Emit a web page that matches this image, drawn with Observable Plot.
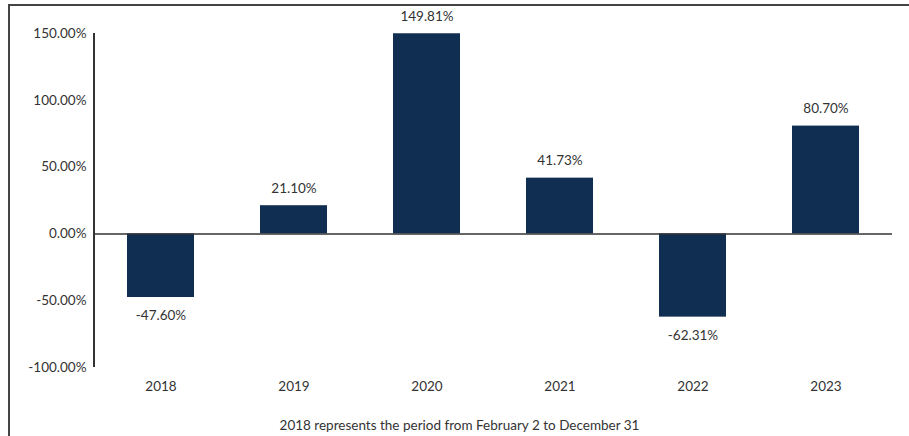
<!DOCTYPE html>
<html><head><meta charset="utf-8">
<script src="https://cdn.jsdelivr.net/npm/d3@7"></script>
<script src="https://cdn.jsdelivr.net/npm/@observablehq/plot@0.6"></script>
<style>
html,body{margin:0;padding:0;background:#fff;}
#frame{position:absolute;left:8px;top:4px;width:899px;height:430px;border-top:2px solid #444;border-left:2px solid #444;font-family:Lato,"Noto Sans",sans-serif;}
#cap{position:absolute;left:0;width:100%;top:411px;text-align:center;font-size:13.5px;color:#333;}
</style></head>
<body><div id="frame"><div id="chart"></div><div id="cap">2018 represents the period from February 2 to December 31</div></div>
<script>
const years = ["2018","2019","2020","2021","2022","2023"];
const returns = [-47.60, 21.10, 149.81, 41.73, -62.31, 80.70];
const yTicks = [-100, -50, 0, 50, 100, 150];
const data = years.map((y,i)=>({year:y, value:returns[i]}));
const fmt = v => v.toFixed(2) + "%";
const chart = Plot.plot({
  width: 899, height: 400,
  marginLeft: 84, marginRight: 17, marginTop: 27, marginBottom: 39,
  style: {fontFamily: 'Lato,"Noto Sans",sans-serif', fontSize: "13.5px", color: "#333", background: "#fff"},
  x: {domain: years, paddingInner: 0.5, paddingOuter: 0.25, label: null},
  y: {domain: [-100, 150], label: null},
  marks: [
    Plot.barY(data, {x: "year", y: "value", fill: "#102e52"}),
    Plot.ruleY([0], {stroke: "#333", strokeWidth: 1.5}),
    Plot.axisY({ticks: yTicks, tickFormat: fmt, tickSize: 0, tickPadding: 8, label: null, fontSize: 13.5}),
    Plot.axisX({tickSize: 0, tickPadding: 14, label: null, fontSize: 13.5}),
    Plot.text(data.filter(d=>d.value>=0), {x: "year", y: "value", text: d=>fmt(d.value), lineAnchor: "bottom", dy: -13, fill: "#333", fontSize: 13.5}),
    Plot.text(data.filter(d=>d.value<0), {x: "year", y: "value", text: d=>fmt(d.value), lineAnchor: "top", dy: 13, fill: "#333", fontSize: 13.5})
  ]
});
document.getElementById("chart").appendChild(chart);
const ys = chart.scale("y");
const y1 = ys.apply(150), y2 = ys.apply(-100);
d3.select(chart).append("line").attr("x1", 84).attr("x2", 84).attr("y1", y1).attr("y2", y2)
  .attr("stroke", "#333").attr("stroke-width", 2);
</script></body></html>
